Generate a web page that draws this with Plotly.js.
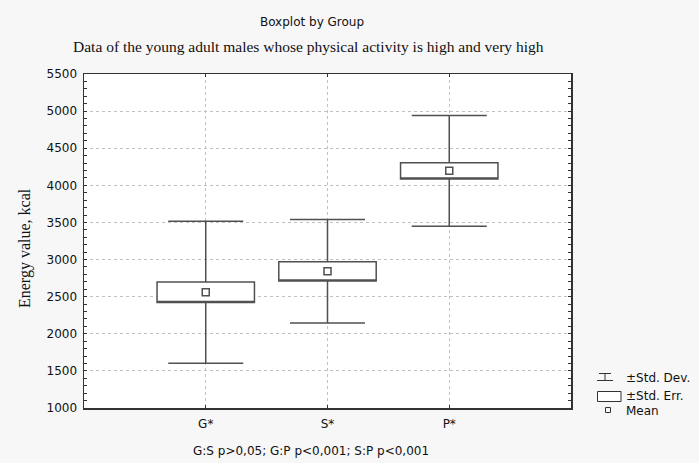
<!DOCTYPE html>
<html>
<head>
<meta charset="utf-8">
<script src="https://cdn.plot.ly/plotly-3.0.1.min.js"></script>
<style>html,body{margin:0;padding:0;background:#f7f7f7;}</style>
</head>
<body>
<div id="chart" style="width:699px;height:463px;"></div>
<script>
// Data
var groups = ['G*', 'S*', 'P*'];
var groupPos = [1, 2, 3];
var means = [2560, 2842, 4195];
var stdErr = [137, 130, 110];
var stdDev = [957, 696, 745];
var yTickVals = [1000, 1500, 2000, 2500, 3000, 3500, 4000, 4500, 5000, 5500];
var legendLabels = ['±Std. Dev.', '±Std. Err.', 'Mean'];
var noteText = 'G:S p>0,05; G:P p<0,001; S:P p<0,001';

var q1 = means.map(function(m, i){ return m - stdErr[i]; });
var q3 = means.map(function(m, i){ return m + stdErr[i]; });
var lo = means.map(function(m, i){ return m - stdDev[i]; });
var hi = means.map(function(m, i){ return m + stdDev[i]; });

var SANS = 'DejaVu Sans, Verdana, sans-serif';
var SERIF = 'Liberation Serif, Times New Roman, serif';

var boxTrace = {
  type: 'box',
  x: groupPos,
  q1: q1, q3: q3, median: q1,
  lowerfence: lo, upperfence: hi,
  width: 0.8,
  whiskerwidth: 0.77,
  fillcolor: '#ffffff',
  line: {color: '#505050', width: 1.5},
  hoverinfo: 'y',
  showlegend: false
};
var meanTrace = {
  type: 'scatter', mode: 'markers',
  x: groupPos, y: means,
  marker: {symbol: 'square-open', size: 7, color: '#505050', line: {width: 1.5}},
  showlegend: false
};

// plot area in px: l=84, r=571, t=74, b=408
function px2x(p){ return (p - 84) / 487; }
function px2y(p){ return (408 - p) / 334; }
var lc = '#333333';
var shapes = [
  // Std Dev legend icon
  {type:'line', xref:'paper', yref:'paper', x0:px2x(599), x1:px2x(611), y0:px2y(373.5), y1:px2y(373.5), line:{color:lc, width:1}},
  {type:'line', xref:'paper', yref:'paper', x0:px2x(597), x1:px2x(613), y0:px2y(380.5), y1:px2y(380.5), line:{color:lc, width:1}},
  {type:'line', xref:'paper', yref:'paper', x0:px2x(605), x1:px2x(605), y0:px2y(373.5), y1:px2y(380.5), line:{color:lc, width:1}},
  // Std Err legend icon
  {type:'rect', xref:'paper', yref:'paper', x0:px2x(597.5), x1:px2x(621), y0:px2y(391.5), y1:px2y(401.5), line:{color:lc, width:1}, fillcolor:'#ffffff'},
  // Mean legend icon
  {type:'rect', xref:'paper', yref:'paper', x0:px2x(605.5), x1:px2x(610.5), y0:px2y(407.5), y1:px2y(412.5), line:{color:lc, width:1}, fillcolor:'rgba(0,0,0,0)'}
];
var legY = [377.5, 396, 410.5];
var annotations = [
  {text: 'Data of the young adult males whose physical activity is high and very high',
   xref:'paper', yref:'paper', x:px2x(308), y:px2y(47), xanchor:'center', yanchor:'middle', showarrow:false,
   font:{family:SERIF, size:15.5, color:'#111'}},
  {text: 'Energy value, kcal', textangle:-90,
   xref:'paper', yref:'paper', x:px2x(25), y:px2y(248), xanchor:'center', yanchor:'middle', showarrow:false,
   font:{family:SERIF, size:16, color:'#111'}},
  {text: noteText, xref:'paper', yref:'paper', x:px2x(311), y:px2y(451), xanchor:'center', yanchor:'middle', showarrow:false,
   font:{family:SANS, size:12, color:'#111'}}
];
legendLabels.forEach(function(t, i){
  annotations.push({text: t, xref:'paper', yref:'paper', x:px2x(624), y:px2y(legY[i]), xanchor:'left', yanchor:'middle', showarrow:false,
    font:{family:SANS, size:12, color:'#111'}});
});

var layout = {
  width: 699, height: 463,
  margin: {l:84, r:128, t:74, b:55},
  paper_bgcolor: '#f7f7f7',
  plot_bgcolor: '#ffffff',
  title: {text:'Boxplot by Group', x:312/699, xanchor:'center', y:1 - 22/463, yanchor:'middle', yref:'container',
    font:{family:SANS, size:12, color:'#111'}},
  xaxis: {range:[0,4], tickvals:groupPos, ticktext:groups, showgrid:true, gridcolor:'#c0c0c0', griddash:'dot', gridwidth:1,
    zeroline:false, showline:true, linecolor:lc, linewidth:1.5, mirror:'allticks', ticks:'inside', ticklen:3, tickcolor:lc,
    ticklabelstandoff:4,
    tickfont:{family:SANS, size:12, color:'#111'}},
  yaxis: {range:[1000,5500], tickvals:yTickVals, showgrid:true, gridcolor:'#c0c0c0', griddash:'dot', gridwidth:1,
    zeroline:false, showline:true, linecolor:lc, linewidth:1.5, mirror:'allticks', ticks:'inside', ticklen:3, tickcolor:lc,
    minor:{dtick:100, ticks:'inside', ticklen:3, tickcolor:lc, showgrid:false},
    ticklabelstandoff:3,
    tickfont:{family:SANS, size:12, color:'#111'}},
  shapes: shapes,
  annotations: annotations,
  showlegend: false
};

Plotly.newPlot('chart', [boxTrace, meanTrace], layout, {displayModeBar:false, staticPlot:true});
</script>
</body>
</html>
